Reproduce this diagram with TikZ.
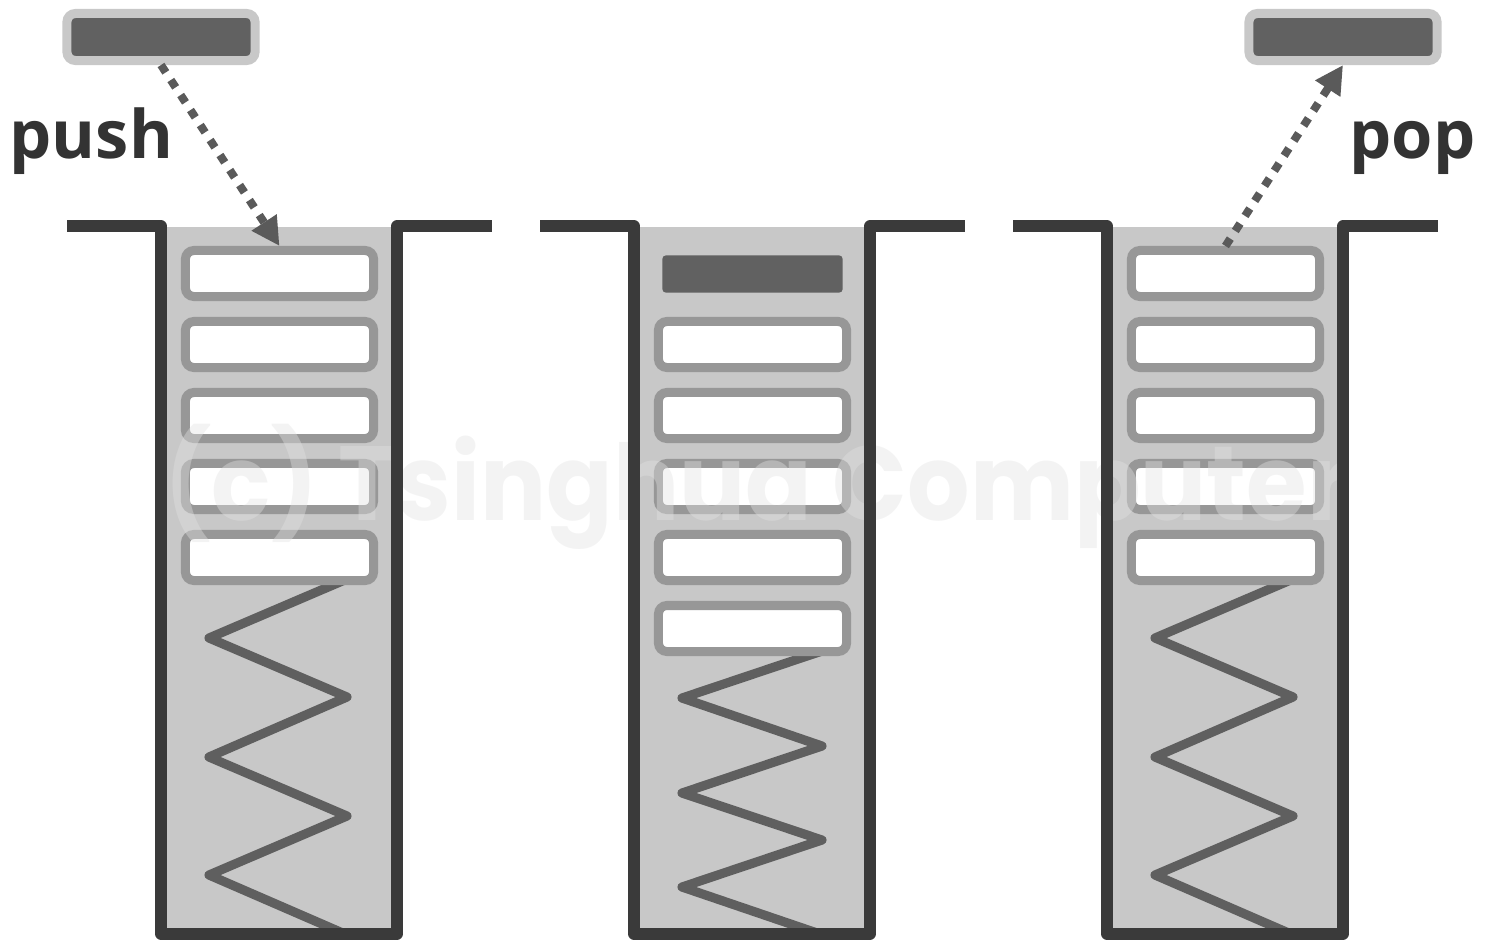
\documentclass[tikz,border=0pt]{standalone}
\usepackage{fontspec}
\usetikzlibrary{arrows.meta}
\newfontfamily\lblfont{Open Sans}
\newfontfamily\wmfont{Poppins}[BoldFont={Poppins Bold}]
\definecolor{wallc}{HTML}{3A3A3A}
\definecolor{fillc}{HTML}{C8C8C8}
\definecolor{bordc}{HTML}{979797}
\definecolor{darkc}{HTML}{616161}
\definecolor{springc}{HTML}{5F5F5F}
\definecolor{arrc}{HTML}{5A5A5A}
\definecolor{txtc}{HTML}{333333}
\definecolor{wmc}{HTML}{E2E2E2}
\begin{document}
\begin{tikzpicture}[x=0.01cm,y=-0.01cm,
  wall/.style={draw=wallc,line width=3.2pt,line join=round},
  slot/.style={draw=bordc,fill=white,line width=2.56pt,rounded corners=2.4pt,minimum width=1.88cm,minimum height=0.46cm,inner sep=0pt},
  item/.style={fill=darkc,rounded corners=0.9pt,minimum width=1.80cm,minimum height=0.37cm,inner sep=0pt},
  moving/.style={draw=fillc,fill=darkc,line width=2.56pt,rounded corners=2.4pt,minimum width=1.88cm,minimum height=0.47cm,inner sep=0pt},
  spring/.style={draw=springc,line width=2.6pt,line join=round},
  flow/.style={draw=arrc,line width=2.3pt,dash pattern=on 2.5pt off 2.6pt,-{Triangle[length=8pt,width=8pt]}},
  lbl/.style={text=txtc,font=\lblfont\bfseries\fontsize{19}{23}\selectfont,inner sep=0pt},
  wm/.style={text=wmc,text opacity=0.4,font=\wmfont\bfseries\fontsize{30}{36}\selectfont,inner sep=0pt},
]
\useasboundingbox (0,0) rectangle (1488,951);
% wells
\foreach \o in {0,473,946}{
  \fill[fillc] ({161+\o},227) rectangle ({397+\o},934);
}
% springs
\draw[spring] (347,579) -- (209,638) -- (347,697) -- (209,757) -- (347,816) -- (209,875) -- (345,934);
\draw[spring] (822,651) -- (682,698) -- (822,746) -- (682,793) -- (822,840) -- (682,887) -- (820,934);
\draw[spring] (1293,579) -- (1155,638) -- (1293,697) -- (1155,757) -- (1293,816) -- (1155,875) -- (1291,934);
% slots
\foreach \i in {1,...,5}{
  \node[slot] (a\i) at (279.5,{273.5+71*(\i-1)}) {};
  \node[slot] (b\i) at (752.5,{344.5+71*(\i-1)}) {};
  \node[slot] (c\i) at (1225.5,{273.5+71*(\i-1)}) {};
}
\node[item] (b0) at (752.5,274) {};
% watermark
\node[wm,anchor=base] (wmark) at (757,520) {\scalebox{0.93}[1]{(c) Tsinghua Computer}};
% walls
\foreach \o in {0,473,946}{
  \draw[wall] ({67+\o},226) -| ({161+\o},934) -| ({397+\o},226) -- ({492+\o},226);
}
% moving items
\node[moving] (pushbox) at (161,37) {};
\node[moving] (popbox) at (1343,37) {};
\draw[flow] (pushbox.south) -- (a1.north);
\draw[flow] (c1.north) -- (popbox.south);
% labels
\node[lbl,anchor=base west] (pushlbl) at (9,158) {push};
\node[lbl,anchor=base east] (poplbl) at (1476,158) {pop};
\end{tikzpicture}
\end{document}
